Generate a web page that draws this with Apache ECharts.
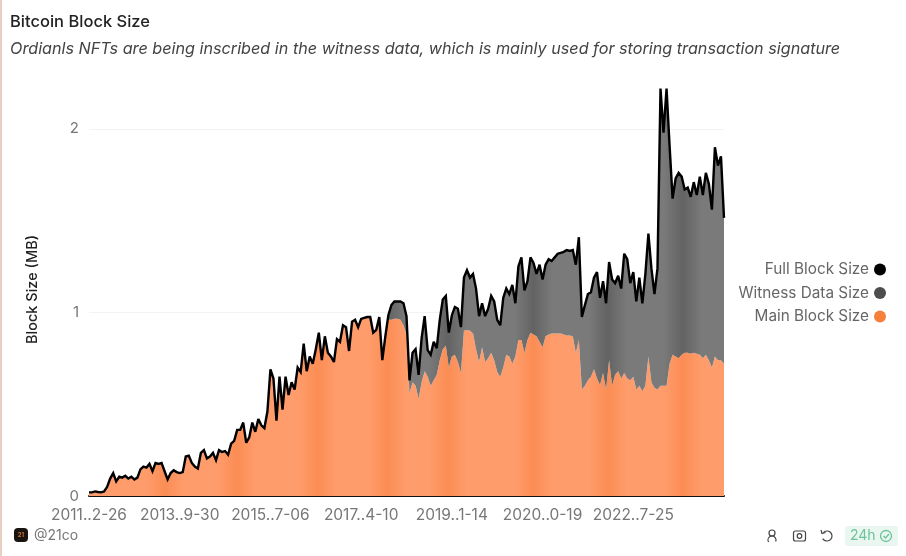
<!DOCTYPE html>
<html>
<head>
<meta charset="utf-8">
<style>
  html, body { margin: 0; padding: 0; background: #fff; }
  #c { width: 906px; height: 556px; }
</style>
<script src="https://cdn.jsdelivr.net/npm/echarts@6/dist/echarts.min.js"></script>
</head>
<body>
<div id="c"></div>
<script>
"use strict";
const tickLabels = ["2011..2-26", "2013..9-30", "2015..7-06", "2017..4-10", "2019..1-14", "2020..0-19", "2022..7-25"];
const fullSize = [
  .02,.02,.025,.022,.02,.025,.05,.095,.125,.08,
  .105,.10,.11,.095,.105,.09,.10,.145,.16,.155,
  .175,.135,.18,.175,.18,.135,.09,.125,.14,.13,
  .125,.13,.215,.22,.18,.16,.15,.235,.25,.205,
  .215,.235,.195,.25,.24,.245,.225,.285,.30,.36,
  .36,.40,.29,.32,.40,.35,.42,.385,.37,.46,
  .69,.64,.41,.65,.47,.65,.55,.62,.58,.70,
  .675,.83,.68,.76,.72,.80,.89,.74,.87,.78,
  .76,.73,.855,.84,.93,.92,.79,.95,.96,.92,
  .965,.97,.975,.975,.89,.905,.975,.74,.87,.985,
  1.04,1.06,1.06,1.06,1.05,.98,.63,.78,.80,.66,
  .86,.98,.795,.77,.84,.805,.96,1.07,1.09,.89,
  .985,1.03,1.02,.92,1.19,1.23,1.19,1.21,1.13,.98,
  1.05,.98,1.02,1.09,1.06,.96,.93,1.08,1.13,1.10,
  1.15,1.05,1.25,1.30,1.12,1.17,1.30,1.27,1.21,1.26,
  1.18,1.26,1.29,1.28,1.30,1.32,1.325,1.33,1.34,1.335,
  1.34,1.26,1.41,.975,1.04,1.10,1.11,1.19,1.22,1.08,
  1.17,1.05,1.275,1.18,1.16,1.20,1.13,1.32,1.29,1.16,
  1.22,1.06,1.19,1.05,1.21,1.43,1.24,1.10,1.24,2.22,
  1.98,2.22,1.91,1.62,1.73,1.76,1.74,1.67,1.68,1.63,
  1.71,1.64,1.74,1.64,1.76,1.70,1.56,1.90,1.80,1.85,
  1.515
];
const mainSize = [
  .02,.02,.025,.022,.02,.025,.05,.095,.125,.08,
  .105,.10,.11,.095,.105,.09,.10,.145,.16,.155,
  .175,.135,.18,.175,.18,.135,.09,.125,.14,.13,
  .125,.13,.215,.22,.18,.16,.15,.235,.25,.205,
  .215,.235,.195,.25,.24,.245,.225,.285,.30,.36,
  .36,.40,.29,.32,.40,.35,.42,.385,.37,.46,
  .69,.64,.41,.65,.47,.65,.55,.62,.58,.70,
  .675,.83,.68,.76,.72,.80,.89,.74,.87,.78,
  .76,.73,.855,.84,.93,.92,.79,.95,.96,.92,
  .965,.97,.975,.975,.89,.905,.975,.74,.87,.96,
  .96,.965,.965,.96,.93,.88,.56,.62,.60,.53,
  .62,.68,.65,.60,.63,.66,.74,.80,.82,.70,
  .76,.77,.73,.67,.90,.905,.90,.885,.80,.73,
  .81,.73,.75,.78,.74,.675,.65,.70,.77,.76,
  .72,.76,.85,.85,.78,.85,.89,.88,.87,.84,
  .81,.87,.88,.885,.885,.885,.885,.88,.875,.875,
  .87,.78,.85,.58,.60,.63,.65,.69,.64,.605,
  .67,.58,.74,.60,.66,.68,.64,.67,.64,.63,
  .65,.58,.60,.57,.60,.76,.62,.59,.58,.60,
  .60,.60,.72,.77,.76,.75,.77,.78,.78,.775,
  .78,.775,.77,.75,.77,.74,.70,.76,.74,.74,
  .72
];
const witnessSize = [
  0,0,0,0,0,0,0,0,0,0,
  0,0,0,0,0,0,0,0,0,0,
  0,0,0,0,0,0,0,0,0,0,
  0,0,0,0,0,0,0,0,0,0,
  0,0,0,0,0,0,0,0,0,0,
  0,0,0,0,0,0,0,0,0,0,
  0,0,0,0,0,0,0,0,0,0,
  0,0,0,0,0,0,0,0,0,0,
  0,0,0,0,0,0,0,0,0,0,
  0,0,0,0,0,0,0,0,0,.025,
  .08,.095,.095,.10,.12,.10,.07,.16,.20,.13,
  .24,.30,.145,.17,.21,.145,.22,.27,.27,.19,
  .225,.26,.29,.25,.29,.325,.29,.325,.33,.25,
  .24,.25,.27,.31,.32,.285,.28,.38,.36,.34,
  .43,.29,.40,.45,.34,.32,.41,.39,.34,.42,
  .37,.39,.41,.395,.415,.435,.44,.45,.465,.46,
  .47,.48,.56,.395,.44,.47,.46,.50,.58,.475,
  .50,.47,.535,.58,.50,.52,.49,.65,.65,.53,
  .57,.48,.59,.48,.61,.67,.62,.51,.66,1.62,
  1.38,1.62,1.19,.85,.97,1.01,.97,.89,.90,.855,
  .93,.865,.97,.89,.99,.96,.86,1.14,1.06,1.11,
  .795
];
const categories = fullSize.map((v, i) => (i % 30 === 0 && tickLabels[i / 30]) || "");

const FONT = "Inter, 'Noto Sans', sans-serif";
const GREEN = "#6cc29a";

// soft vertical bands seen across both areas, as fractions of the plot width
const BANDS = [.12, .233, .36, .47, .565, .7, .817, .935];
function bandFill(base, dark) {
  const stops = [{ offset: 0, color: base }];
  BANDS.forEach(b => {
    stops.push({ offset: b - .03, color: base }, { offset: b, color: dark }, { offset: b + .03, color: base });
  });
  stops.push({ offset: 1, color: base });
  return { type: "linear", x: 0, y: 0, x2: 1, y2: 0, colorStops: stops };
}

const chart = echarts.init(document.getElementById("c"), null, { renderer: "canvas" });
chart.setOption({
  animation: false,
  backgroundColor: "#fff",
  title: [
    { text: "Bitcoin Block Size", left: 5, top: 9, textStyle: { fontFamily: FONT, fontSize: 16.5, fontWeight: 500, color: "#222" } },
    { text: "Ordianls NFTs are being inscribed in the witness data, which is mainly used for storing transaction signature", left: 5, top: 36, textStyle: { fontFamily: FONT, fontSize: 16.2, fontStyle: "italic", fontWeight: 400, color: "#444" } }
  ],
  legend: {
    orient: "vertical", right: 15, top: 257, align: "right", icon: "circle",
    itemWidth: 12, itemHeight: 12, itemGap: 8.5,
    data: ["Full Block Size", "Witness Data Size", "Main Block Size"],
    textStyle: { fontFamily: FONT, fontSize: 15.3, color: "#666" }
  },
  grid: { left: 89, right: 182, top: 83, bottom: 60 },
  xAxis: {
    type: "category", boundaryGap: false, data: categories,
    axisLine: { lineStyle: { color: "#111", width: 2 } },
    axisTick: { show: false },
    axisLabel: { interval: 29, margin: 11, hideOverlap: false, fontFamily: FONT, fontSize: 15.5, color: "#777" }
  },
  yAxis: {
    type: "value", min: 0, max: 2.25, interval: 1,
    name: "Block Size (MB)", nameLocation: "middle", nameGap: 49, nameRotate: 90,
    nameTextStyle: { fontFamily: FONT, fontSize: 14.5, fontWeight: 500, color: "#222" },
    axisLine: { show: false }, axisTick: { show: false },
    axisLabel: { showMaxLabel: false, margin: 10, padding: [0, 0, 4, 0], fontFamily: FONT, fontSize: 15, color: "#777" },
    splitLine: { showMaxLine: false, lineStyle: { color: "#f3f3f3" } }
  },
  series: [
    {
      name: "Main Block Size", type: "line", stack: "size", data: mainSize, showSymbol: false,
      itemStyle: { color: "#f5803e" }, lineStyle: { width: 0 }, areaStyle: { opacity: 1, color: bandFill("#ff9c6b", "#fb8d54") }
    },
    {
      name: "Witness Data Size", type: "line", stack: "size", data: witnessSize, showSymbol: false,
      itemStyle: { color: "#4d4d4d" }, lineStyle: { width: 0 }, areaStyle: { opacity: 1, color: bandFill("#7a7a7a", "#636363") }
    },
    {
      name: "Full Block Size", type: "line", data: fullSize, showSymbol: false, z: 5,
      itemStyle: { color: "#000" }, lineStyle: { color: "#000", width: 2.4, join: "miter", miterLimit: 3 }
    }
  ],
  graphic: [
    { type: "rect", shape: { x: 0, y: 0, width: 2, height: 556 }, style: { fill: "#e8cfc3" } },
    { type: "rect", shape: { x: 14, y: 528, width: 14, height: 14, r: 4 }, style: { fill: "#1a1410" } },
    { type: "text", x: 21, y: 535, style: { text: "21", fontSize: 6, fontWeight: 700, fontFamily: FONT, fill: "#c9713d", align: "center", verticalAlign: "middle" } },
    { type: "text", x: 34, y: 536, style: { text: "@21co", fontSize: 14, fontFamily: FONT, fill: "#777", verticalAlign: "middle" } },
    // footer icons
    { type: "circle", shape: { cx: 772, cy: 533, r: 3 }, style: { fill: "none", stroke: "#444", lineWidth: 1.2 } },
    { type: "arc", shape: { cx: 772, cy: 540, r: 4, startAngle: 2.6, endAngle: 0.4, clockwise: true }, style: { fill: "none", stroke: "#444", lineWidth: 1.2 } },
    { type: "rect", shape: { x: 793.5, y: 531, width: 12, height: 10, r: 2 }, style: { fill: "none", stroke: "#444", lineWidth: 1.2 } },
    { type: "circle", shape: { cx: 799.5, cy: 536, r: 2.3 }, style: { fill: "none", stroke: "#444", lineWidth: 1.2 } },
    { type: "arc", shape: { cx: 827, cy: 536, r: 5, startAngle: -2.4, endAngle: 2.6, clockwise: true }, style: { fill: "none", stroke: "#444", lineWidth: 1.2 } },
    { type: "polyline", shape: { points: [[821, 530], [822, 533.5], [825.5, 532.5]] }, style: { fill: "none", stroke: "#444", lineWidth: 1.2 } },
    { type: "rect", shape: { x: 845, y: 526, width: 53, height: 20, r: 2 }, style: { fill: "#e9f7f0" } },
    { type: "text", x: 850, y: 536, style: { text: "24h", fontSize: 14, fontFamily: FONT, fill: GREEN, verticalAlign: "middle" } },
    { type: "circle", shape: { cx: 886, cy: 536, r: 5.5 }, style: { fill: "none", stroke: GREEN, lineWidth: 1.3 } },
    { type: "polyline", shape: { points: [[883.5, 536], [885.5, 538], [889, 534]] }, style: { fill: "none", stroke: GREEN, lineWidth: 1.3 } }
  ]
});
</script>
</body>
</html>
